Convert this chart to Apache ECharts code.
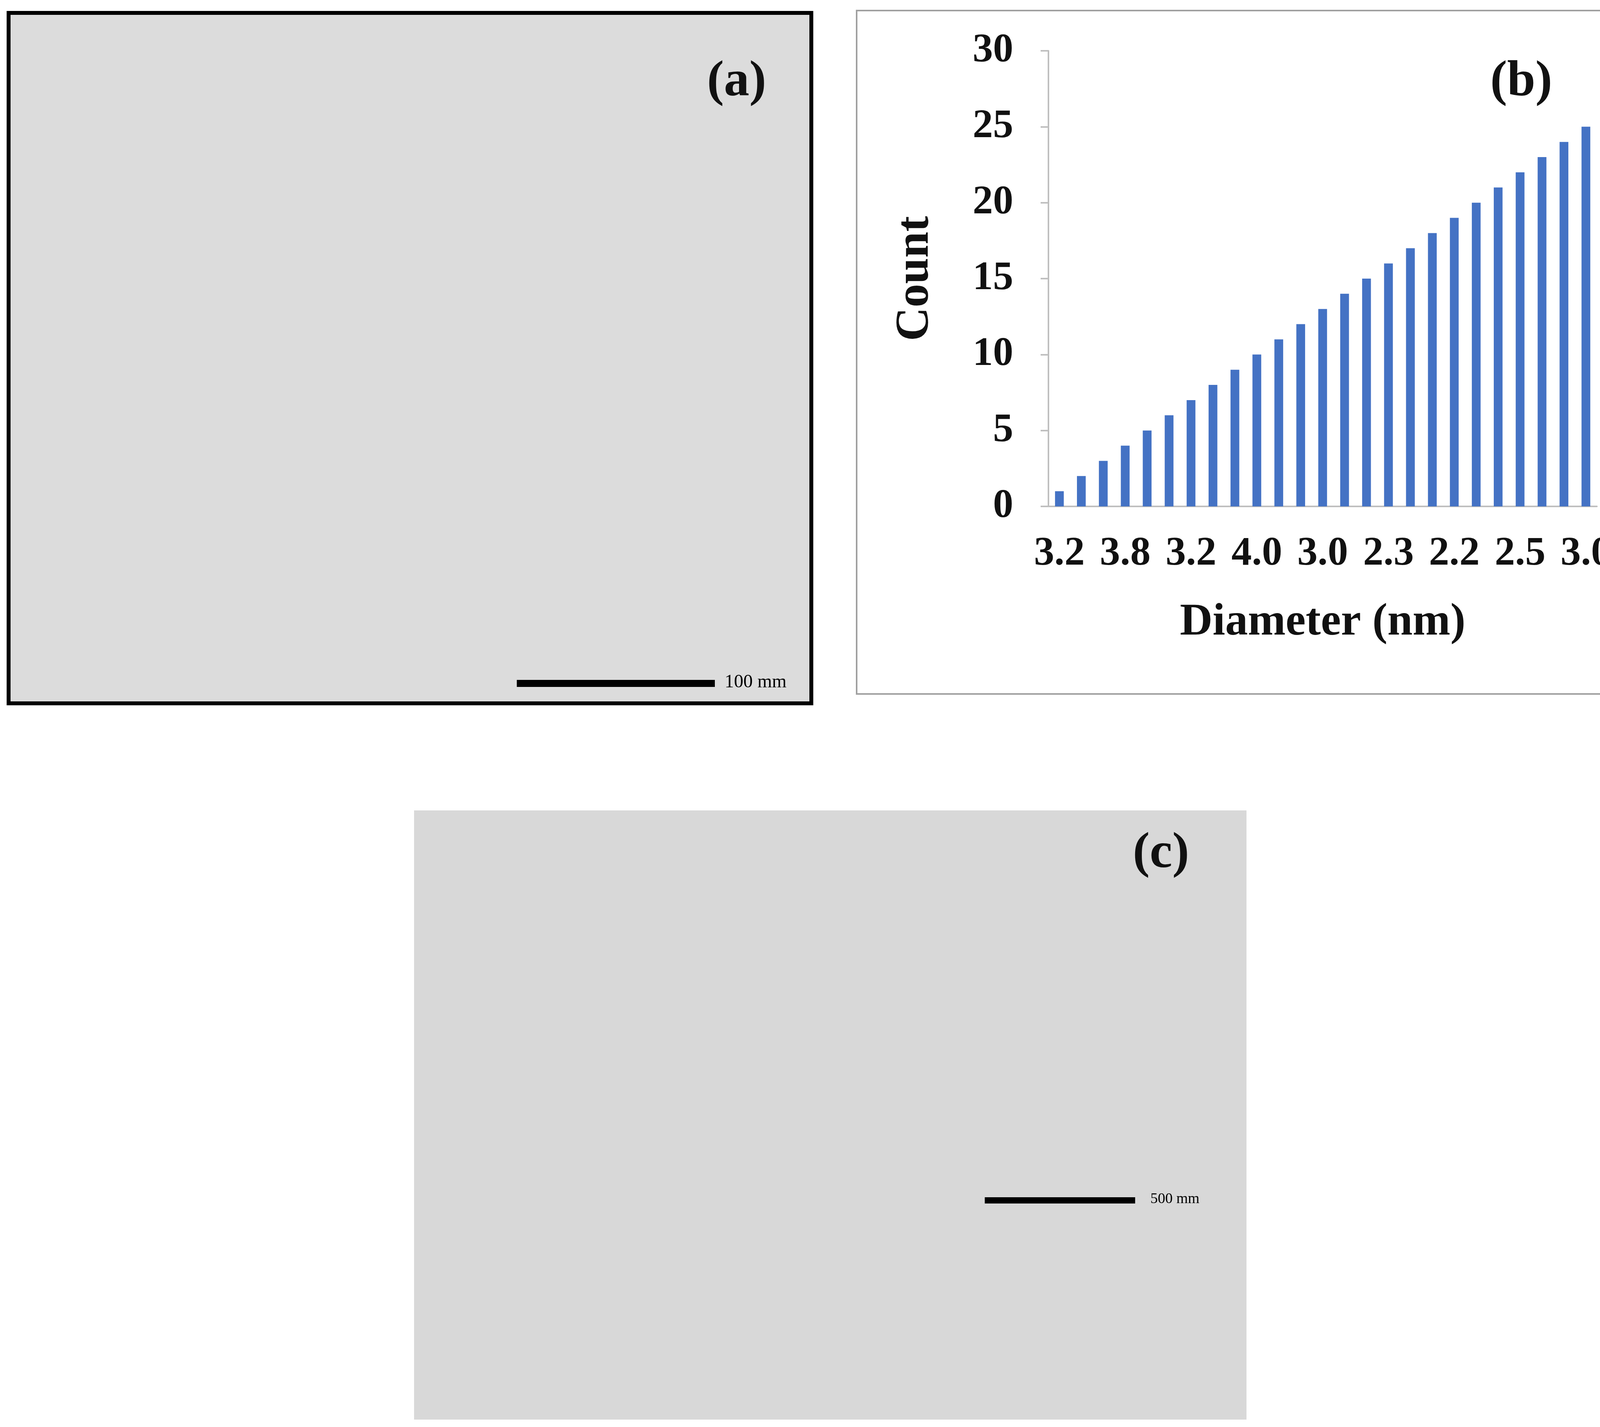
<!DOCTYPE html>
<html>
<head>
<meta charset="utf-8">
<script src="https://cdn.jsdelivr.net/npm/echarts@6/dist/echarts.min.js"></script>
<style>html,body{margin:0;padding:0;background:#fff}#main{width:4251px;height:3652px}</style>
</head>
<body>
<div id="main"></div>
<script>
// diameter labels (only every third one is printed in the figure)
var diameters = ['3.2', '3.5', '3.6', '3.8', '3.4', '3.3', '3.2', '3.6', '3.9', '4.0', '3.5', '3.1',
	'3.0', '2.8', '2.5', '2.3', '2.2', '2.1', '2.2', '2.4', '2.3', '2.5', '2.8', '2.9', '3.0'];
var counts = [1, 2, 3, 4, 5, 6, 7, 8, 9, 10, 11, 12, 13, 14, 15, 16, 17, 18, 19, 20, 21, 22, 23, 24, 25];
var yTicks = [0, 30, 5];

var font = 'Liberation Serif';
var chart = echarts.init(document.getElementById('main'));
var option = {
	backgroundColor : '#fff',
	grid : { left : 2684, right : 163, top : 130, bottom : 2356 },
	xAxis : {
		type : 'category',
		data : diameters,
		axisLine : { lineStyle : { color : '#bfbfbf', width : 4 } },
		axisTick : { show : false },
		axisLabel : { interval : 2, color : '#111', fontFamily : font, fontWeight : 'bold', fontSize : 104, margin : 70 },
		name : 'Diameter (nm)',
		nameLocation : 'middle',
		nameGap : 240,
		nameTextStyle : { color : '#111', fontFamily : font, fontWeight : 'bold', fontSize : 116 }
	},
	yAxis : {
		type : 'value',
		min : yTicks[0], max : yTicks[1], interval : yTicks[2],
		splitLine : { show : false },
		axisLine : { show : true, lineStyle : { color : '#bfbfbf', width : 4 } },
		axisTick : { show : true, length : 20, lineStyle : { color : '#bfbfbf', width : 4 } },
		axisLabel : { color : '#111', fontFamily : font, fontWeight : 'bold', fontSize : 104, margin : 90 },
		name : 'Count',
		nameLocation : 'middle',
		nameGap : 280,
		nameTextStyle : { color : '#111', fontFamily : font, fontWeight : 'bold', fontSize : 120 }
	},
	series : [ {
		type : 'bar',
		data : counts,
		barWidth : '40%',
		itemStyle : { color : '#4472C4' }
	} ],
	graphic : [
		// panel borders
		{ type : 'rect', shape : { x : 2193, y : 27, width : 2039, height : 1749 }, style : { fill : 'none', stroke : '#a0a0a0', lineWidth : 4 }, z : -1 },
		{ type : 'rect', shape : { x : 22, y : 33, width : 2055, height : 1767 }, style : { fill : '#dcdcdc', stroke : '#000', lineWidth : 10 }, z : -1 },
		{ type : 'rect', shape : { x : 1060, y : 2074, width : 2131, height : 1559 }, style : { fill : '#d8d8d8', stroke : 'none' }, z : -1 },
		// panel letters
		{ type : 'text', left : 3815, top : 145, style : { text : '(b)', font : 'bold 130px "Liberation Serif"', fill : '#111' } },
		{ type : 'text', left : 1810, top : 145, style : { text : '(a)', font : 'bold 130px "Liberation Serif"', fill : '#111' } },
		{ type : 'text', left : 2900, top : 2120, style : { text : '(c)', font : 'bold 130px "Liberation Serif"', fill : '#111' } },
		// scale bars
		{ type : 'rect', shape : { x : 1323, y : 1740, width : 507, height : 18 }, style : { fill : '#000' } },
		{ type : 'text', left : 1855, top : 1722, style : { text : '100 mm', font : '48px "Liberation Serif"', fill : '#000' } },
		{ type : 'rect', shape : { x : 2521, y : 3064, width : 385, height : 16 }, style : { fill : '#000' } },
		{ type : 'text', left : 2945, top : 3050, style : { text : '500 mm', font : '38px "Liberation Serif"', fill : '#000' } }
	]
};
chart.setOption(option);
</script>
</body>
</html>
